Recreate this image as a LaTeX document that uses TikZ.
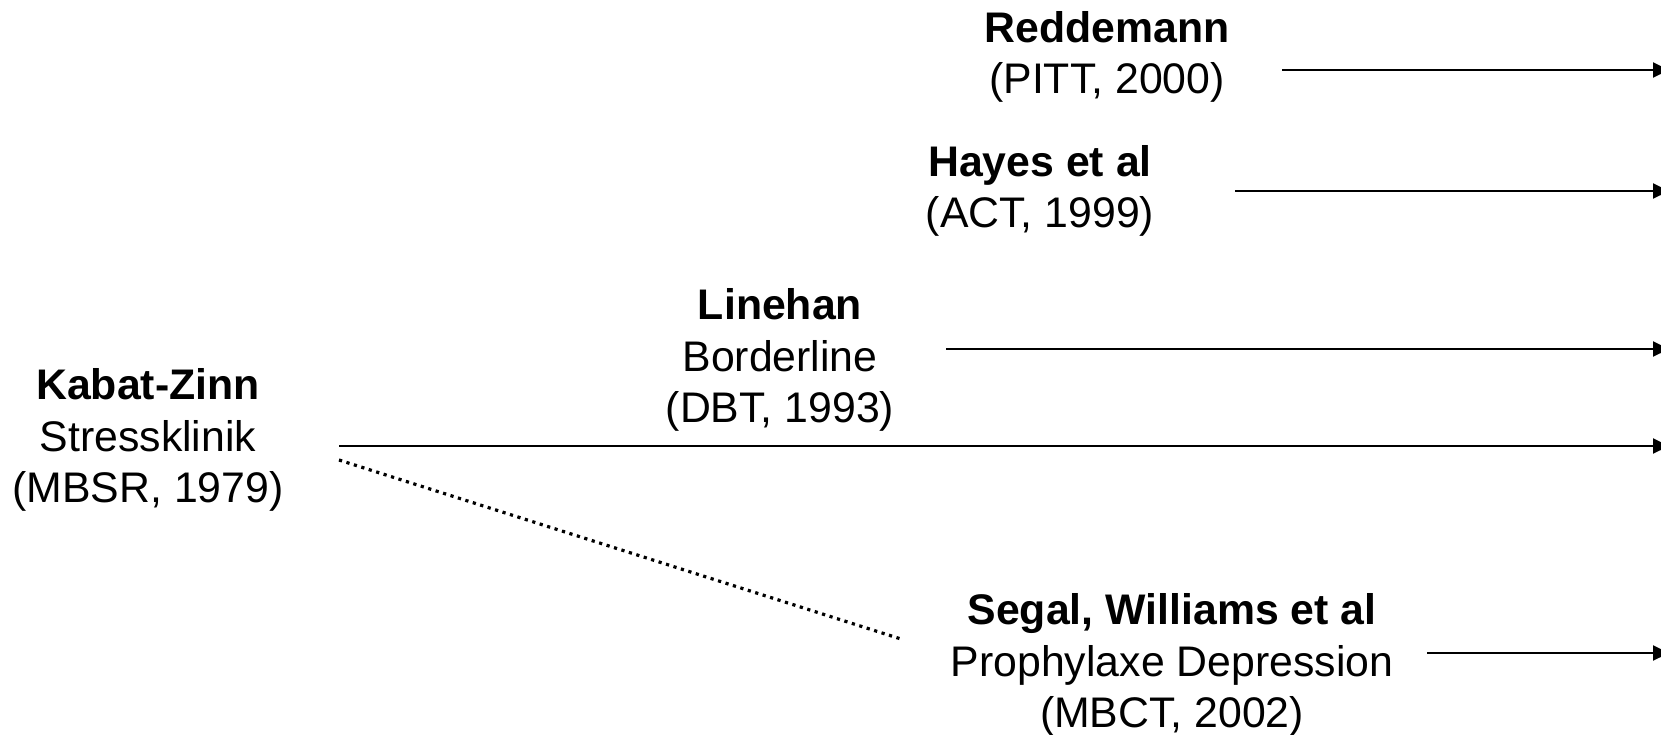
\documentclass[tikz,border=0pt]{standalone}
\usepackage{fontspec}
\setmainfont{Liberation Sans}
\usetikzlibrary{arrows.meta}
\begin{document}
\begin{tikzpicture}[x=1pt,y=1pt,
  lbl/.style={align=center,inner sep=0pt,font=\fontsize{42.8}{51.5}\selectfont},
  arr/.style={line width=2pt,-{Triangle[length=16pt,width=15pt]}},
  dotline/.style={line width=3.2pt,dash pattern=on 3.2pt off 4.6pt}]
\useasboundingbox (0,0) rectangle (1661,-734);
\fill[white] (0,0) rectangle (1661,-734);
\node[lbl] (redd) at (1107,-57) {\textbf{Reddemann}\\(PITT, 2000)};
\node[lbl] (hayes) at (1040,-191) {\textbf{Hayes et al}\\(ACT, 1999)};
\node[lbl] (line) at (780,-360) {\textbf{Linehan}\\Borderline\\(DBT, 1993)};
\node[lbl] (kabat) at (148,-440) {\textbf{Kabat-Zinn}\\Stressklinik\\(MBSR, 1979)};
\node[lbl] (segal) at (1172,-665) {\textbf{Segal, Williams et al}\\Prophylaxe Depression\\(MBCT, 2002)};
\coordinate (r1) at (1282,-70);  \coordinate (r2) at (1669,-70);
\coordinate (h1) at (1235,-191); \coordinate (h2) at (1669,-191);
\coordinate (l1) at (946,-349);  \coordinate (l2) at (1669,-349);
\coordinate (k1) at (339,-446);  \coordinate (k2) at (1669,-446);
\coordinate (s1) at (1427,-653); \coordinate (s2) at (1669,-653);
\coordinate (d1) at (339,-460);  \coordinate (d2) at (901,-639);
\draw[arr] (r1) -- (r2);
\draw[arr] (h1) -- (h2);
\draw[arr] (l1) -- (l2);
\draw[arr] (k1) -- (k2);
\draw[arr] (s1) -- (s2);
\draw[dotline] (d1) -- (d2);
\end{tikzpicture}
\end{document}
